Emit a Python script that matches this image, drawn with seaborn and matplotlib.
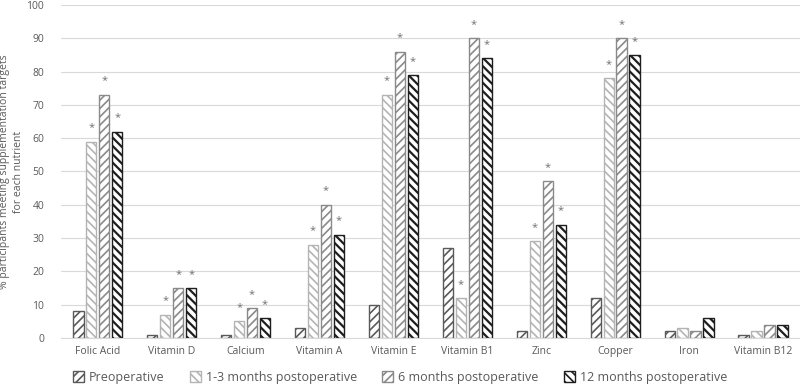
import pandas as pd
import matplotlib
import matplotlib.pyplot as plt
import seaborn as sns

nutrients = ["Folic Acid", "Vitamin D", "Calcium", "Vitamin A", "Vitamin E",
             "Vitamin B1", "Zinc", "Copper", "Iron", "Vitamin B12"]
periods = ["Preoperative", "1-3 months postoperative",
           "6 months postoperative", "12 months postoperative"]

preop = [8, 1, 1, 3, 10, 27, 2, 12, 2, 1]
m1_3 = [59, 7, 5, 28, 73, 12, 29, 78, 3, 2]
m6 = [73, 15, 9, 40, 86, 90, 47, 90, 2, 4]
m12 = [62, 15, 6, 31, 79, 84, 34, 85, 6, 4]

# significance markers (*) per series
sig_preop = [False] * 10
sig_m1_3 = [True, True, True, True, True, True, True, True, False, False]
sig_m6 = [True, True, True, True, True, True, True, True, False, False]
sig_m12 = [True, True, True, True, True, True, True, True, False, False]

series = [preop, m1_3, m6, m12]
sigs = [sig_preop, sig_m1_3, sig_m6, sig_m12]

rows = []
for p, vals in zip(periods, series):
    for n, v in zip(nutrients, vals):
        rows.append({"nutrient": n, "period": p, "value": v})
df = pd.DataFrame(rows)

sns.set_style("white")
plt.rcParams["font.family"] = ["Open Sans", "DejaVu Sans"]
plt.rcParams["hatch.linewidth"] = 1.2

fig = plt.figure(figsize=(8, 3.88), dpi=100)
ax = fig.add_axes([0.076, 0.129, 0.924, 0.858])

sns.barplot(data=df, x="nutrient", y="value", hue="period", order=nutrients,
            hue_order=periods, width=0.7, gap=0.2, ax=ax, legend=False,
            palette=["white"] * 4, saturation=1)

styles = [
    ("////", "#5a5a5a", 1.2),
    ("\\\\\\\\", "#b4b4b4", 1.2),
    ("////", "#8a8a8a", 1.2),
    ("\\\\\\\\", "#1e1e1e", 1.6),
]

for cont, (hatch, col, hlw), sig in zip(ax.containers, styles, sigs):
    for bar, s in zip(cont, sig):
        bar.set_facecolor("white")
        bar.set_edgecolor(col)
        bar.set_hatch(hatch)
        bar.set_linewidth(1.0)
        if hasattr(bar, "set_hatch_linewidth"):
            bar.set_hatch_linewidth(hlw)
        if s:
            ax.text(bar.get_x() + bar.get_width() / 2, bar.get_height() + 2.5, "*",
                    ha="center", va="bottom", fontsize=8, color="#707070")

ax.set_ylim(0, 100)
ax.set_yticks(range(0, 101, 10))
ax.set_xlim(-0.5, 9.5)
ax.yaxis.grid(True, color="#d9d9d9", linewidth=0.8)
ax.set_axisbelow(True)
for sp in ["top", "right", "left"]:
    ax.spines[sp].set_visible(False)
ax.spines["bottom"].set_color("#d9d9d9")
ax.tick_params(axis="both", length=0, labelsize=7.5, labelcolor="#595959")
ax.tick_params(axis="x", pad=6)
ax.tick_params(axis="y", pad=12)
ax.set_xlabel("")
ax.set_ylabel("% participants meeting supplementation targets\nfor each nutrient",
              fontsize=7.5, color="#595959", linespacing=1.4)
ax.yaxis.set_label_coords(-0.05, 0.5)

handles = []
for p, (hatch, col, hlw) in zip(periods, styles):
    h = matplotlib.patches.Patch(facecolor="white", edgecolor=col, hatch=hatch, label=p)
    handles.append(h)
fig.legend(handles=handles, loc="center", bbox_to_anchor=(0.5, 0.028), ncol=4,
           frameon=False, fontsize=9.0, handlelength=0.9, handleheight=0.9,
           columnspacing=2.0, handletextpad=0.4, labelcolor="#595959")

fig.savefig("out.png", dpi=100)
